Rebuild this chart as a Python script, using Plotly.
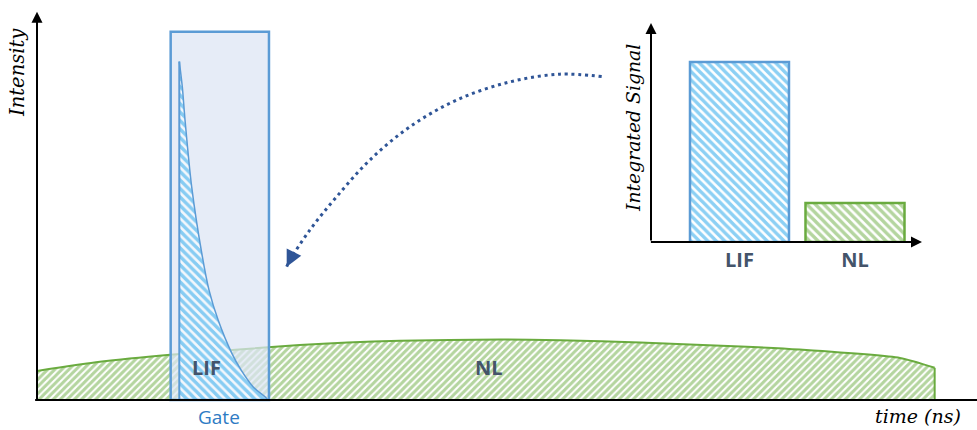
import plotly.graph_objects as go

# ---- main panel: intensity vs time -------------------------------------
# broad non-linear (NL) background emission
nl_t = [0.0, 6.7, 14.2, 28.0, 38.7, 49.4, 55.8, 64.3, 75.0, 81.3, 92.0, 95.7]
nl_i = [8.3, 10.9, 12.9, 15.7, 16.9, 17.3, 17.1, 16.4, 15.3, 14.4, 12.0, 9.2]

# fast LIF decay inside the gate
lif_t = [15.17, 15.49, 15.78, 16.49, 17.56, 18.34, 19.30, 20.76, 21.75, 23.03, 24.31, 24.6]
lif_i = [96.7, 89.5, 80.0, 60.9, 42.0, 31.4, 22.9, 13.4, 8.6, 3.8, 0.9, 0.0]

# detection gate
gate_start, gate_end, gate_top = 14.25, 24.73, 105.2

# axis extents
t_axis_end = 100.2
i_axis_top = 110.9

# curved dotted callout from inset to gate
callout_t = [60.20, 55.76, 50.43, 44.74, 39.77, 35.50, 31.95, 29.10, 26.97, 26.62]
callout_i = [92.4, 93.1, 90.9, 85.7, 78.1, 68.6, 58.1, 48.6, 40.0, 38.1]

# ---- inset: integrated signal -------------------------------------------
inset_cats = ["LIF", "NL"]
inset_vals = [100.0, 21.7]

BLUE_EDGE = "#5B9BD5"
BLUE_HATCH = "#1AA2EA"
GREEN = "#6AAB3F"
SLATE = "#44546A"
ARROW_BLUE = "#2F5597"

fig = go.Figure()

# NL background area (smooth top, filled to the baseline)
fig.add_trace(go.Scatter(
    x=nl_t, y=nl_i, mode="lines", fill="tozeroy",
    line=dict(color=GREEN, width=2, shape="spline", smoothing=0.6),
    fillcolor="white",
    fillpattern=dict(shape="/", fgcolor=GREEN, bgcolor="white", size=5, solidity=0.6),
    hoverinfo="skip",
))
# right-hand edge of the NL area
fig.add_trace(go.Scatter(
    x=[nl_t[-1], nl_t[-1]], y=[nl_i[-1], 0], mode="lines",
    line=dict(color=GREEN, width=2), hoverinfo="skip",
))

# translucent gate window
fig.add_trace(go.Scatter(
    x=[gate_start, gate_end, gate_end, gate_start, gate_start],
    y=[0, 0, gate_top, gate_top, 0],
    mode="lines", fill="toself", line=dict(width=0),
    fillcolor="rgba(220,229,244,0.72)", hoverinfo="skip",
))

# LIF decay
fig.add_trace(go.Scatter(
    x=lif_t, y=lif_i, mode="lines", fill="tozeroy",
    line=dict(color=BLUE_EDGE, width=1.5, shape="spline", smoothing=0.8),
    fillcolor="#F4F7FC",
    fillpattern=dict(shape="\\", fgcolor=BLUE_HATCH, bgcolor="#F4F7FC", size=6, solidity=0.58),
    hoverinfo="skip",
))
fig.add_trace(go.Scatter(
    x=[lif_t[0], lif_t[0]], y=[0, lif_i[0]], mode="lines",
    line=dict(color=BLUE_EDGE, width=2), hoverinfo="skip",
))

# dotted callout curve
fig.add_trace(go.Scatter(
    x=callout_t, y=callout_i, mode="lines",
    line=dict(color=ARROW_BLUE, width=3, dash="3px,3.8px", shape="spline"),
    hoverinfo="skip",
))

# inset bars
fig.add_trace(go.Bar(
    x=[inset_cats[0]], y=[inset_vals[0]], width=0.857, xaxis="x2", yaxis="y2",
    marker=dict(color="white", line=dict(color=BLUE_EDGE, width=2.5),
                pattern=dict(shape="\\", fgcolor=BLUE_HATCH, bgcolor="white", size=6, solidity=0.58)),
    hoverinfo="skip",
))
fig.add_trace(go.Bar(
    x=[inset_cats[1]], y=[inset_vals[1]], width=0.857, xaxis="x2", yaxis="y2",
    marker=dict(color="white", line=dict(color=GREEN, width=2.5),
                pattern=dict(shape="\\", fgcolor=GREEN, bgcolor="white", size=6, solidity=0.58)),
    hoverinfo="skip",
))

# gate outline and main time axis
fig.add_shape(type="rect", xref="x", yref="y", x0=gate_start, x1=gate_end, y0=0, y1=gate_top,
              line=dict(color=BLUE_EDGE, width=2.5), fillcolor="rgba(0,0,0,0)", layer="above")
fig.add_shape(type="line", xref="x", yref="y", x0=-0.2, x1=t_axis_end + 5, y0=0, y1=0,
              line=dict(color="black", width=2), layer="above")

annotations = [
    # main intensity axis with arrowhead
    dict(x=0, y=i_axis_top, ax=0, ay=-0.3, xref="x", yref="y", axref="x", ayref="y",
         showarrow=True, arrowhead=2, arrowsize=1.1, arrowwidth=2, arrowcolor="black", text=""),
    # inset axes
    dict(x=-0.766, y=121.7, ax=-0.766, ay=0, xref="x2", yref="y2", axref="x2", ayref="y2",
         showarrow=True, arrowhead=2, arrowsize=1.1, arrowwidth=2, arrowcolor="black", text=""),
    dict(x=1.58, y=0, ax=-0.78, ay=0, xref="x2", yref="y2", axref="x2", ayref="y2",
         showarrow=True, arrowhead=2, arrowsize=1.1, arrowwidth=2, arrowcolor="black", text=""),
    # callout arrowhead
    dict(x=callout_t[-1], y=callout_i[-1], ax=5, ay=-10, xref="x", yref="y",
         showarrow=True, arrowhead=2, arrowsize=1.3, arrowwidth=2.5, arrowcolor=ARROW_BLUE, text=""),
    # labels
    dict(x=18.1, y=9.4, xref="x", yref="y", text="<b>LIF</b>", showarrow=False,
         font=dict(family="Open Sans", size=20, color=SLATE)),
    dict(x=48.2, y=9.4, xref="x", yref="y", text="<b>NL</b>", showarrow=False,
         font=dict(family="Open Sans", size=20, color=SLATE)),
    dict(x=19.4, y=-4.9, xref="x", yref="y", text="Gate", showarrow=False,
         font=dict(family="Open Sans", size=19, color="#2E7BC4")),
    dict(x=17 / 977, y=1 - 73 / 430, xref="paper", yref="paper", text="<i>Intensity</i>",
         showarrow=False, textangle=-90, xanchor="center", yanchor="middle",
         font=dict(family="DejaVu Serif", size=19.5, color="black")),
    dict(x=918 / 977, y=1 - 416 / 430, xref="paper", yref="paper", text="<i>time (ns)</i>",
         showarrow=False, xanchor="center", yanchor="middle",
         font=dict(family="DejaVu Serif", size=19, color="black")),
    dict(x=633 / 977, y=1 - 128 / 430, xref="paper", yref="paper", text="<i>Integrated Signal</i>",
         showarrow=False, textangle=-90, xanchor="center", yanchor="middle",
         font=dict(family="DejaVu Serif", size=18.8, color="black")),
]

fig.update_layout(
    width=977, height=430, margin=dict(l=0, r=0, t=0, b=0),
    paper_bgcolor="white", plot_bgcolor="rgba(0,0,0,0)",
    showlegend=False, barmode="overlay",
    annotations=annotations,
    xaxis=dict(domain=[0, 1], range=[-3.945, 100.213], visible=False, fixedrange=True),
    yaxis=dict(domain=[0, 1], range=[-8.571, 114.286], visible=False, fixedrange=True),
    xaxis2=dict(domain=[651 / 977, 922 / 977], anchor="y2", type="category",
                categoryorder="array", categoryarray=inset_cats,
                range=[-0.766, 1.58], showgrid=False, zeroline=False, showline=False,
                ticks="", ticklabelstandoff=4,
                tickfont=dict(family="Open Sans", size=20, color=SLATE, weight="bold")),
    yaxis2=dict(domain=[(430 - 242) / 430, (430 - 23) / 430], anchor="x2",
                range=[0, 121.7], visible=False),
)

fig.write_html("out.html")
